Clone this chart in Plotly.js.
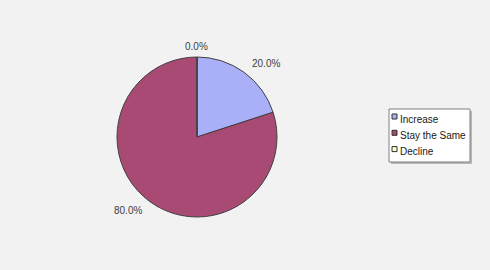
<!DOCTYPE html>
<html><head><meta charset="utf-8">
<script src="https://cdn.plot.ly/plotly-3.0.1.min.js"></script>
<style>body{margin:0;background:#f2f2f2}</style>
</head><body><div id="chart" style="width:490px;height:270px"></div>
<script>
const labels = ["Increase", "Stay the Same", "Decline"];
const values = [20, 80, 0];
const colors = ["#aab0f8", "#a84a74", "#ffffcc"];

const W = 490, H = 270;
const cx = 197, cy = 137, R = 80;
const dom = {x: [(cx - R) / W, (cx + R) / W], y: [(H - cy - R) / H, (H - cy + R) / H]};
const font = {family: "Liberation Sans, Arial, sans-serif", size: 10, color: "#404040"};

const total = values.reduce((a, b) => a + b, 0);
const annotations = [];
const shapes = [];
let cum = 0;
values.forEach((v, i) => {
  const mid = (cum + v / 2) / total * 2 * Math.PI;
  cum += v;
  const r = R + 11;
  const px = cx + r * Math.sin(mid);
  const py = cy - r * Math.cos(mid);
  const s = Math.sin(mid);
  annotations.push({
    x: px / W, y: 1 - py / H, xref: "paper", yref: "paper",
    text: (v / total * 100).toFixed(1) + "%", showarrow: false,
    xanchor: Math.abs(s) < 0.1 ? "center" : (s > 0 ? "left" : "right"),
    yanchor: "middle", font: font
  });
});

// legend box
const lx0 = 389, lx1 = 470, ly0 = 109, ly1 = 162, rowH = 16.3, firstRow = 119;
const px2x = p => p / W, px2y = p => 1 - p / H;
shapes.push({type: "rect", xref: "paper", yref: "paper",
  x0: px2x(lx0 + 2), x1: px2x(lx1 + 2), y0: px2y(ly0 + 2), y1: px2y(ly1 + 2),
  fillcolor: "#b8b8b8", line: {width: 0}});
shapes.push({type: "rect", xref: "paper", yref: "paper",
  x0: px2x(lx0), x1: px2x(lx1), y0: px2y(ly0), y1: px2y(ly1),
  fillcolor: "#ffffff", line: {color: "#808080", width: 1}});
labels.forEach((lab, i) => {
  const ry = firstRow + i * rowH;
  shapes.push({type: "rect", xref: "paper", yref: "paper",
    x0: px2x(392), x1: px2x(397), y0: px2y(ry - 5), y1: px2y(ry),
    fillcolor: colors[i], line: {color: "#303030", width: 1}});
  annotations.push({x: px2x(398), y: px2y(ry), xref: "paper", yref: "paper",
    text: lab, showarrow: false, xanchor: "left", yanchor: "middle",
    font: {family: font.family, size: 10, color: "#202020"}});
});

Plotly.newPlot("chart", [{
  type: "pie", labels: labels, values: values, sort: false,
  direction: "clockwise", rotation: 0, textinfo: "none", hoverinfo: "none",
  domain: dom,
  marker: {colors: colors, line: {color: "#404040", width: 1}}
}], {
  width: W, height: H, margin: {l: 0, r: 0, t: 0, b: 0},
  paper_bgcolor: "#f2f2f2", plot_bgcolor: "#f2f2f2",
  showlegend: false,
  annotations: annotations, shapes: shapes
}, {staticPlot: true});
</script></body></html>
